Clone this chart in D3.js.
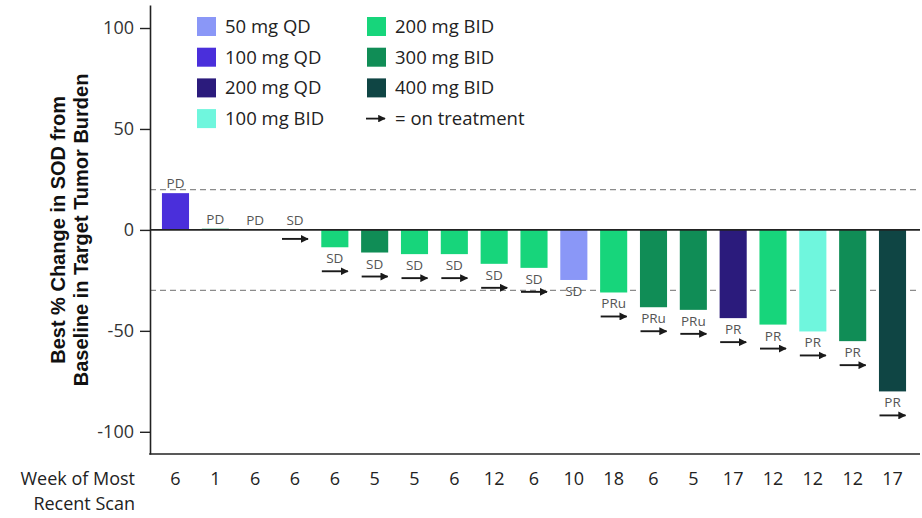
<!DOCTYPE html>
<html>
<head>
<meta charset="utf-8">
<script src="https://cdn.jsdelivr.net/npm/d3@7"></script>
<style>
  html, body { margin: 0; padding: 0; background: #fff; }
  svg { display: block; }
</style>
</head>
<body>
<svg id="chart" width="922" height="518"></svg>
<script>
// Dose cohorts and their fill colours
const doseLevels = ["50 mg QD", "100 mg QD", "200 mg QD", "100 mg BID", "200 mg BID", "300 mg BID", "400 mg BID"];
const doseColors = ["#8a97f7", "#4a2fdb", "#2b1b7c", "#6ff6dd", "#17d57b", "#108d56", "#0f4544"];

// One entry per patient, sorted by best response
const pctChange = [18.2, 0.6, 0, 0, -8.6, -11.2, -12, -12, -16.8, -18.8, -24.8, -31, -38.3, -39.6, -43.7, -46.9, -50.3, -55.1, -80];
const patientDose = ["100 mg QD", "300 mg BID", "200 mg BID", "200 mg BID", "200 mg BID", "300 mg BID", "200 mg BID",
  "200 mg BID", "200 mg BID", "200 mg BID", "50 mg QD", "200 mg BID", "300 mg BID", "300 mg BID", "200 mg QD",
  "200 mg BID", "100 mg BID", "300 mg BID", "400 mg BID"];
const responses = ["PD", "PD", "PD", "SD", "SD", "SD", "SD", "SD", "SD", "SD", "SD", "PRu", "PRu", "PRu", "PR", "PR", "PR", "PR", "PR"];
const onTreatment = [false, false, false, true, true, true, true, true, true, true, false, true, true, true, true, true, true, true, true];
const weekOfScan = ["6", "1", "6", "6", "6", "5", "5", "6", "12", "6", "10", "18", "6", "5", "17", "12", "12", "12", "17"];

// Reference thresholds (PD at +20%, PR at -30%)
const thresholds = [20, -30];
const yTicks = [100, 50, 0, -50, -100];

const svg = d3.select("#chart");

const x = d3.scaleBand()
  .domain(d3.range(pctChange.length))
  .range([150, 918])
  .paddingInner(0.32)
  .paddingOuter(0.3);

const y = d3.scaleLinear().domain([-111, 111.4]).range([454, 5]);
const color = d3.scaleOrdinal().domain(doseLevels).range(doseColors);

const plotRight = 920;
const axisColor = "#222";

// arrowhead marker
svg.append("defs").append("marker")
  .attr("id", "head")
  .attr("viewBox", "0 0 10 10")
  .attr("refX", 9).attr("refY", 5)
  .attr("markerWidth", 4.2).attr("markerHeight", 4.2)
  .attr("markerUnits", "strokeWidth")
  .attr("orient", "auto")
  .append("path")
  .attr("d", "M0,0 L10,5 L0,10 Z")
  .attr("fill", "#1a1a1a");

// dashed threshold lines
svg.append("g").selectAll("line")
  .data(thresholds)
  .join("line")
  .attr("x1", 150).attr("x2", plotRight)
  .attr("y1", d => y(d)).attr("y2", d => y(d))
  .attr("stroke", "#8c8c8c")
  .attr("stroke-width", 1.3)
  .attr("stroke-dasharray", "6,4");

// bars
svg.append("g").selectAll("rect")
  .data(pctChange)
  .join("rect")
  .attr("x", (d, i) => x(i))
  .attr("width", x.bandwidth())
  .attr("y", d => Math.min(y(d), y(0)))
  .attr("height", d => Math.abs(y(d) - y(0)))
  .attr("fill", (d, i) => color(patientDose[i]));

// left axis with ticks (plain hyphen for negatives)
const yAxis = d3.axisLeft(y)
  .tickValues(yTicks)
  .tickFormat(d => String(d))
  .tickSize(10).tickSizeOuter(0).tickPadding(6);
const gy = svg.append("g").attr("transform", "translate(150,0)").call(yAxis);
gy.select(".domain").attr("stroke", axisColor).attr("stroke-width", 1.6);
gy.selectAll(".tick line").attr("stroke", axisColor).attr("stroke-width", 1.4);
gy.selectAll(".tick text")
  .attr("font-family", "'Open Sans', sans-serif")
  .attr("font-size", 18)
  .attr("fill", "#333");

// zero line and bottom frame
svg.append("line")
  .attr("x1", 150).attr("x2", plotRight)
  .attr("y1", y(0)).attr("y2", y(0))
  .attr("stroke", axisColor).attr("stroke-width", 1.6);
svg.append("line")
  .attr("x1", 149.2).attr("x2", plotRight)
  .attr("y1", y(-111)).attr("y2", y(-111))
  .attr("stroke", axisColor).attr("stroke-width", 1.6);

// response labels
svg.append("g").selectAll("text")
  .data(pctChange)
  .join("text")
  .attr("x", (d, i) => x(i) + x.bandwidth() / 2)
  .attr("y", d => d >= 0 ? y(d) - 5 : y(d) + 16)
  .attr("text-anchor", "middle")
  .attr("font-family", "'Open Sans', sans-serif")
  .attr("font-size", 13.5)
  .attr("fill", "#555")
  .text((d, i) => responses[i]);

// on-treatment arrows
const arrowData = pctChange.map((v, i) => ({ v, i })).filter(d => onTreatment[d.i]);
svg.append("g").selectAll("line")
  .data(arrowData)
  .join("line")
  .attr("x1", d => x(d.i) + x.bandwidth() / 2 - 13)
  .attr("x2", d => x(d.i) + x.bandwidth() / 2 + 13)
  .attr("y1", d => d.v >= 0 ? y(0) + 9 : y(d.v) + 24)
  .attr("y2", d => d.v >= 0 ? y(0) + 9 : y(d.v) + 24)
  .attr("stroke", "#1a1a1a")
  .attr("stroke-width", 1.9)
  .attr("marker-end", "url(#head)");

// week of most recent scan row
svg.append("g").selectAll("text")
  .data(weekOfScan)
  .join("text")
  .attr("x", (d, i) => x(i) + x.bandwidth() / 2)
  .attr("y", 485)
  .attr("text-anchor", "middle")
  .attr("font-family", "'Open Sans', sans-serif")
  .attr("font-size", 18)
  .attr("fill", "#222")
  .text(d => d);

svg.append("text")
  .attr("text-anchor", "end")
  .attr("font-family", "'Open Sans', sans-serif")
  .attr("font-size", 18)
  .attr("fill", "#222")
  .selectAll("tspan")
  .data(["Week of Most", "Recent Scan"])
  .join("tspan")
  .attr("x", 135)
  .attr("y", (d, i) => 485 + i * 25)
  .text(d => d);

// y-axis title
svg.append("text")
  .attr("transform", `translate(0,${y(0)}) rotate(-90)`)
  .attr("text-anchor", "middle")
  .attr("font-family", "'Liberation Sans', Arial, sans-serif")
  .attr("font-weight", "bold")
  .attr("font-size", 20)
  .attr("fill", "#111")
  .selectAll("tspan")
  .data(["Best % Change in SOD from", "Baseline in Target Tumor Burden"])
  .join("tspan")
  .attr("x", 0)
  .attr("y", (d, i) => i === 0 ? 65 : 88)
  .text(d => d);

// legend
const legendCols = [doseLevels.slice(0, 4), doseLevels.slice(4)];
const legend = svg.append("g");
legendCols.forEach((col, c) => {
  const gx = c === 0 ? 197 : 367;
  const rows = legend.append("g").selectAll("g")
    .data(col)
    .join("g")
    .attr("transform", (d, r) => `translate(${gx},${17 + r * 30.7})`);
  rows.append("rect")
    .attr("width", 19).attr("height", 19)
    .attr("fill", d => color(d));
  rows.append("text")
    .attr("x", 28).attr("y", 16)
    .attr("font-family", "'Open Sans', sans-serif")
    .attr("font-size", 18.5)
    .attr("fill", "#222")
    .text(d => d);
});
const lgArrowY = 17 + 3 * 30.7 + 9.5;
legend.append("line")
  .attr("x1", 366).attr("x2", 385)
  .attr("y1", lgArrowY).attr("y2", lgArrowY)
  .attr("stroke", "#1a1a1a")
  .attr("stroke-width", 1.8)
  .attr("marker-end", "url(#head)");
legend.append("text")
  .attr("x", 395).attr("y", lgArrowY + 6.5)
  .attr("font-family", "'Open Sans', sans-serif")
  .attr("font-size", 18.5)
  .attr("fill", "#222")
  .text("= on treatment");
</script>
</body>
</html>
